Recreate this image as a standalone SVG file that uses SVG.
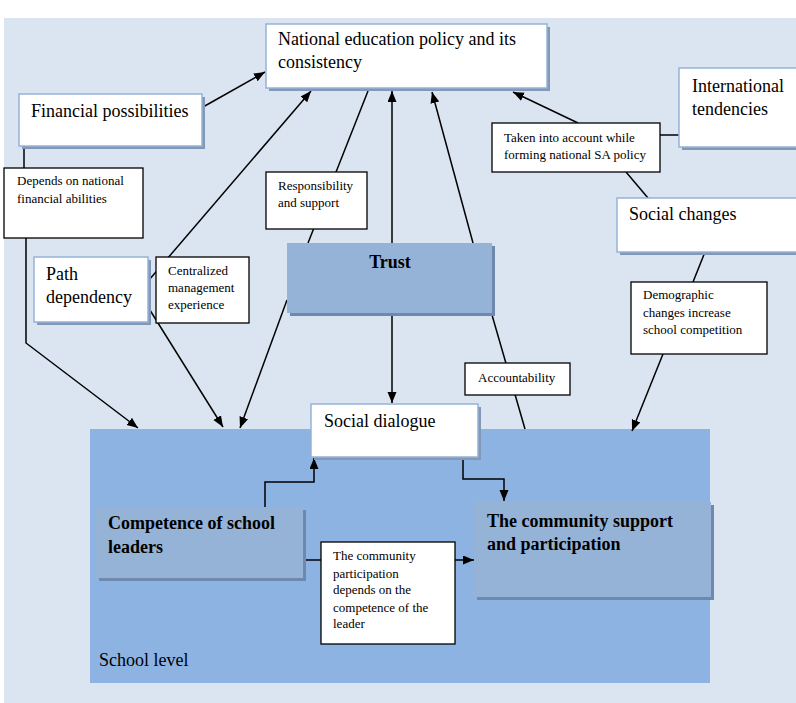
<svg xmlns="http://www.w3.org/2000/svg" width="796" height="703" viewBox="0 0 796 703">
<defs>
<marker id="arr" markerUnits="userSpaceOnUse" markerWidth="12" markerHeight="10" refX="11" refY="4.5" orient="auto">
<path d="M0,0 L11,4.5 L0,9 z" fill="#000"/>
</marker>
<style>
.bg{fill:#dbe5f1}
.node{fill:#fff;stroke:#95b3d7;stroke-width:1.5}
.shadow{fill:#8397b6}
.lab{fill:#fff;stroke:#000;stroke-width:1.3}
.dark{fill:#95b3d7}
.dshadow{fill:#6f88ad}
.school{fill:#8db3e2}
.t{font-family:"Liberation Serif","Times New Roman",serif;font-size:18px;fill:#000}
.b{font-weight:bold}
.s{font-family:"Liberation Serif","Times New Roman",serif;font-size:13px;fill:#000}
.c{fill:none;stroke:#000;stroke-width:1.5}
.a{marker-end:url(#arr)}
</style>
</defs>
<rect class="bg" x="4" y="18" width="792" height="685"/>

<g id="school-level">
<rect class="school" x="90" y="429" width="620" height="254"/>
<text class="t" x="99" y="666">School level</text>
</g>

<g id="connectors">
<line class="c a" x1="203" y1="107" x2="265" y2="72"/>
<line class="c" x1="24" y1="146" x2="24" y2="168"/>
<polyline class="c a" points="26,238 26,343 138,428"/>
<line class="c a" x1="149" y1="280" x2="311" y2="91"/>
<line class="c a" x1="148" y1="307" x2="223" y2="427"/>
<line class="c" x1="368" y1="91" x2="308" y2="243"/>
<line class="c a" x1="287" y1="300" x2="240" y2="428"/>
<line class="c a" x1="392" y1="243" x2="392" y2="91"/>
<line class="c a" x1="392" y1="313" x2="392" y2="403"/>
<line class="c a" x1="473" y1="243" x2="432" y2="92"/>
<line class="c" x1="492" y1="315" x2="525" y2="429"/>
<line class="c" x1="660" y1="135" x2="679" y2="135"/>
<line class="c a" x1="578" y1="123" x2="513" y2="92"/>
<line class="c" x1="648" y1="198" x2="626" y2="172"/>
<line class="c" x1="705" y1="252" x2="693" y2="282"/>
<line class="c a" x1="663" y1="354" x2="632" y2="431"/>
<polyline class="c a" points="265,507 265,482 314,482 314,458"/>
<polyline class="c a" points="463,457 463,479 504,479 504,501"/>
<line class="c" x1="303" y1="560" x2="321" y2="560"/>
<line class="c a" x1="455" y1="560" x2="474" y2="560"/>
</g>

<g id="national-policy">
<rect class="shadow" x="269" y="27" width="281" height="64"/>
<rect class="node" x="266" y="24" width="281" height="64"/>
<text class="t" x="278" y="45">National education policy and its</text>
<text class="t" x="278" y="68">consistency</text>
</g>

<g id="financial-possibilities">
<rect class="shadow" x="22" y="97" width="183" height="52"/>
<rect class="node" x="19" y="94" width="183" height="52"/>
<text class="t" x="31" y="117">Financial possibilities</text>
</g>

<g id="international-tendencies">
<rect class="shadow" x="682" y="71" width="130" height="79"/>
<rect class="node" x="679" y="68" width="130" height="79"/>
<text class="t" x="692" y="92">International</text>
<text class="t" x="692" y="115">tendencies</text>
</g>

<g id="social-changes">
<rect class="shadow" x="620" y="201" width="190" height="54"/>
<rect class="node" x="617" y="198" width="190" height="54"/>
<text class="t" x="629" y="220">Social changes</text>
</g>

<g id="path-dependency">
<rect class="shadow" x="37" y="260" width="114" height="65"/>
<rect class="node" x="34" y="257" width="114" height="65"/>
<text class="t" x="46" y="280">Path</text>
<text class="t" x="46" y="303">dependency</text>
</g>

<g id="trust">
<rect class="dshadow" x="290" y="246" width="205" height="70"/>
<rect class="dark" x="287" y="243" width="205" height="70"/>
<text class="t b" x="390" y="268" text-anchor="middle">Trust</text>
</g>

<g id="social-dialogue">
<rect class="shadow" x="314" y="407" width="167" height="53"/>
<rect class="node" x="311" y="404" width="167" height="53"/>
<text class="t" x="324" y="427">Social dialogue</text>
</g>

<g id="competence">
<rect class="dshadow" x="99" y="510" width="207" height="71"/>
<rect class="dark" x="96" y="507" width="207" height="71"/>
<text class="t b" x="108" y="529">Competence of school</text>
<text class="t b" x="108" y="553">leaders</text>
</g>

<g id="community-support">
<rect class="dshadow" x="477" y="505" width="237" height="95"/>
<rect class="dark" x="474" y="502" width="237" height="95"/>
<text class="t b" x="487" y="527">The community support</text>
<text class="t b" x="487" y="550">and participation</text>
</g>

<g id="label-depends">
<rect class="lab" x="4" y="168" width="139" height="70"/>
<text class="s" x="17" y="185">Depends on national</text>
<text class="s" x="17" y="203">financial abilities</text>
</g>

<g id="label-responsibility">
<rect class="lab" x="266" y="172" width="101" height="57"/>
<text class="s" x="278" y="190">Responsibility</text>
<text class="s" x="278" y="207">and support</text>
</g>

<g id="label-centralized">
<rect class="lab" x="156" y="257" width="93" height="66"/>
<text class="s" x="168" y="275">Centralized</text>
<text class="s" x="168" y="292">management</text>
<text class="s" x="168" y="309">experience</text>
</g>

<g id="label-taken">
<rect class="lab" x="492" y="123" width="168" height="49"/>
<text class="s" x="504" y="142">Taken into account while</text>
<text class="s" x="504" y="159">forming national SA policy</text>
</g>

<g id="label-demographic">
<rect class="lab" x="631" y="282" width="136" height="72"/>
<text class="s" x="643" y="299">Demographic</text>
<text class="s" x="643" y="317">changes increase</text>
<text class="s" x="643" y="334">school competition</text>
</g>

<g id="label-accountability">
<rect class="lab" x="465" y="363" width="105" height="32"/>
<text class="s" x="478" y="382">Accountability</text>
</g>

<g id="label-participation">
<rect class="lab" x="321" y="542" width="134" height="102"/>
<text class="s" x="333" y="560">The community</text>
<text class="s" x="333" y="578">participation</text>
<text class="s" x="333" y="594">depends on the</text>
<text class="s" x="333" y="612">competence of the</text>
<text class="s" x="333" y="628">leader</text>
</g>
</svg>
